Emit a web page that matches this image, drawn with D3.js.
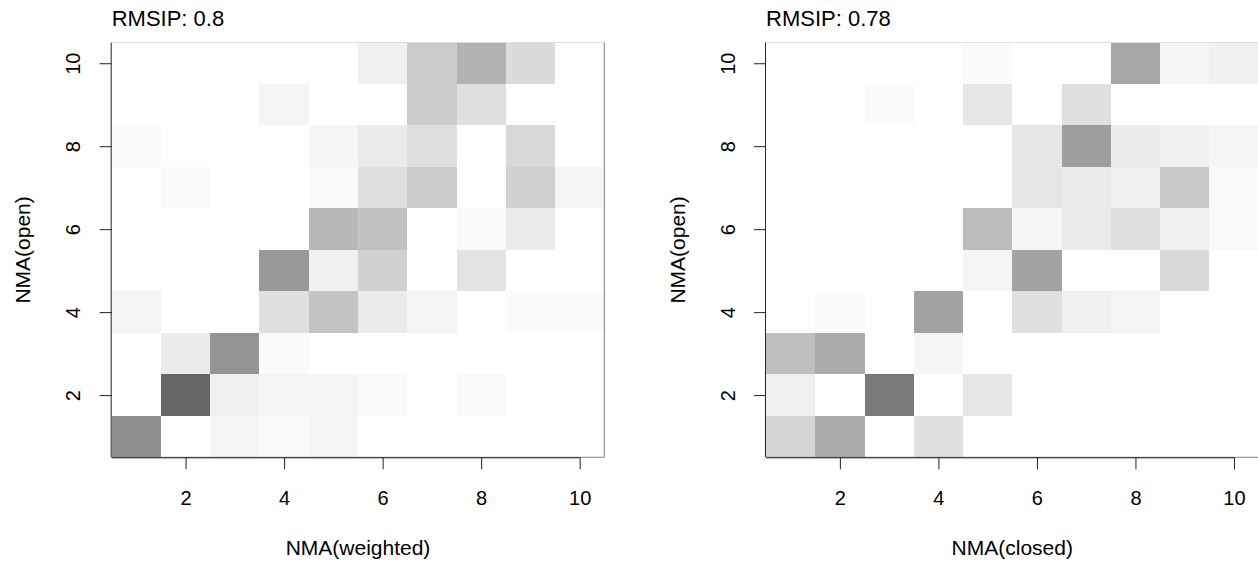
<!DOCTYPE html>
<html>
<head>
<meta charset="utf-8">
<script src="https://cdn.jsdelivr.net/npm/d3@7"></script>
<style>
  html, body { margin: 0; padding: 0; background: #fff; }
  svg { display: block; }
  text { font-family: "Liberation Sans", Arial, Helvetica, sans-serif; fill: #000; }
</style>
</head>
<body>
<svg id="chart" width="1258" height="563"></svg>
<script>
// ---- data ----
const modes = [1, 2, 3, 4, 5, 6, 7, 8, 9, 10];
const tickValues = [2, 4, 6, 8, 10];

// rows: y = 1..10 (NMA(open)); columns: x = 1..10
const weightedVsOpen = [
  [0.44, 0.00, 0.04, 0.02, 0.04, 0.00, 0.00, 0.00, 0.00, 0.00],
  [0.00, 0.60, 0.06, 0.04, 0.04, 0.02, 0.00, 0.02, 0.00, 0.00],
  [0.00, 0.08, 0.42, 0.02, 0.00, 0.00, 0.00, 0.00, 0.00, 0.00],
  [0.04, 0.00, 0.00, 0.12, 0.23, 0.08, 0.04, 0.00, 0.02, 0.02],
  [0.00, 0.00, 0.00, 0.40, 0.06, 0.18, 0.00, 0.11, 0.00, 0.00],
  [0.00, 0.00, 0.00, 0.00, 0.28, 0.24, 0.00, 0.02, 0.08, 0.00],
  [0.00, 0.02, 0.00, 0.00, 0.02, 0.12, 0.20, 0.00, 0.18, 0.04],
  [0.02, 0.00, 0.00, 0.00, 0.04, 0.08, 0.12, 0.00, 0.15, 0.00],
  [0.00, 0.00, 0.00, 0.04, 0.00, 0.00, 0.20, 0.12, 0.00, 0.00],
  [0.00, 0.00, 0.00, 0.00, 0.00, 0.06, 0.20, 0.30, 0.14, 0.00]
];
const closedVsOpen = [
  [0.16, 0.33, 0.00, 0.12, 0.00, 0.00, 0.00, 0.00, 0.00, 0.00],
  [0.06, 0.00, 0.52, 0.00, 0.10, 0.00, 0.00, 0.00, 0.00, 0.00],
  [0.25, 0.33, 0.00, 0.04, 0.00, 0.00, 0.00, 0.00, 0.00, 0.00],
  [0.00, 0.02, 0.00, 0.36, 0.00, 0.12, 0.06, 0.04, 0.00, 0.00],
  [0.00, 0.00, 0.00, 0.00, 0.04, 0.36, 0.00, 0.00, 0.15, 0.00],
  [0.00, 0.00, 0.00, 0.00, 0.26, 0.04, 0.08, 0.12, 0.06, 0.02],
  [0.00, 0.00, 0.00, 0.00, 0.00, 0.10, 0.08, 0.06, 0.21, 0.02],
  [0.00, 0.00, 0.00, 0.00, 0.00, 0.10, 0.38, 0.08, 0.06, 0.04],
  [0.00, 0.00, 0.02, 0.00, 0.10, 0.00, 0.12, 0.00, 0.00, 0.00],
  [0.00, 0.00, 0.00, 0.00, 0.02, 0.00, 0.00, 0.34, 0.04, 0.06]
];
const titles = ["RMSIP: 0.8", "RMSIP: 0.78"];
const xLabels = ["NMA(weighted)", "NMA(closed)"];
const yLabel = "NMA(open)";

// ---- drawing ----
const svg = d3.select("#chart");
const color = d3.scaleLinear().domain([0, 1]).range(["#ffffff", "#000000"]);

const panels = [
  { data: weightedVsOpen, title: titles[0], xLabel: xLabels[0], left: 111.7, right: 604.3 },
  { data: closedVsOpen,   title: titles[1], xLabel: xLabels[1], left: 766.0, right: 1258.6 }
];
const plotTop = 42.5, plotBottom = 457.3;

panels.forEach(p => {
  const x = d3.scaleLinear().domain([0.5, 10.5]).range([p.left, p.right]);
  const y = d3.scaleLinear().domain([0.5, 10.5]).range([plotBottom, plotTop]);
  const g = svg.append("g");

  const cells = [];
  p.data.forEach((row, ri) => row.forEach((v, ci) => cells.push({ xi: modes[ci], yi: modes[ri], v })));

  g.selectAll("rect.cell").data(cells).join("rect")
    .attr("class", "cell")
    .attr("x", d => x(d.xi - 0.5))
    .attr("y", d => y(d.yi + 0.5))
    .attr("width", d => x(d.xi + 0.5) - x(d.xi - 0.5))
    .attr("height", d => y(d.yi - 0.5) - y(d.yi + 0.5))
    .attr("fill", d => color(d.v))
    .attr("shape-rendering", "crispEdges");

  // frame
  g.append("line").attr("x1", p.left).attr("x2", p.right).attr("y1", plotTop).attr("y2", plotTop)
    .attr("stroke", "#dedede").attr("stroke-width", 1);
  g.append("line").attr("x1", p.right).attr("x2", p.right).attr("y1", plotTop).attr("y2", plotBottom)
    .attr("stroke", "#808080").attr("stroke-width", 1);
  g.append("line").attr("x1", p.left).attr("x2", p.right).attr("y1", plotBottom).attr("y2", plotBottom)
    .attr("stroke", "#808080").attr("stroke-width", 1);

  // axes
  const xAxis = d3.axisBottom(x).tickValues(tickValues).tickSize(12).tickPadding(22).tickSizeOuter(0);
  const gx = g.append("g").attr("transform", `translate(0,${plotBottom})`).call(xAxis);
  gx.select(".domain").attr("d", `M${p.left},0.5H${x(10)}`).attr("stroke", "#222");
  gx.selectAll(".tick line").attr("stroke", "#222");
  gx.selectAll(".tick text").attr("font-size", 20).attr("font-family", "Liberation Sans, Arial, sans-serif").attr("fill", "#000");

  const yAxis = d3.axisLeft(y).tickValues(tickValues).tickSize(12).tickSizeOuter(0);
  const gy = g.append("g").attr("transform", `translate(${p.left},0)`).call(yAxis);
  gy.select(".domain").attr("d", `M-0.5,${plotTop}V${plotBottom}`).attr("stroke", "#222");
  gy.selectAll(".tick line").attr("stroke", "#222");
  gy.selectAll(".tick text")
    .attr("font-size", 20).attr("font-family", "Liberation Sans, Arial, sans-serif").attr("fill", "#000")
    .attr("x", null).attr("dy", null)
    .attr("text-anchor", "middle")
    .attr("transform", `translate(${-31.5},0) rotate(-90)`);

  // title
  g.append("text").attr("x", p.left).attr("y", 25.7)
    .attr("font-size", 22).text(p.title);

  // axis titles
  g.append("text").attr("x", (p.left + p.right) / 2).attr("y", 555)
    .attr("text-anchor", "middle").attr("font-size", 21).text(p.xLabel);
  g.append("text")
    .attr("transform", `translate(${p.left - 81.5},${(plotTop + plotBottom) / 2}) rotate(-90)`)
    .attr("text-anchor", "middle").attr("font-size", 21).text(yLabel);
});
</script>
</body>
</html>
